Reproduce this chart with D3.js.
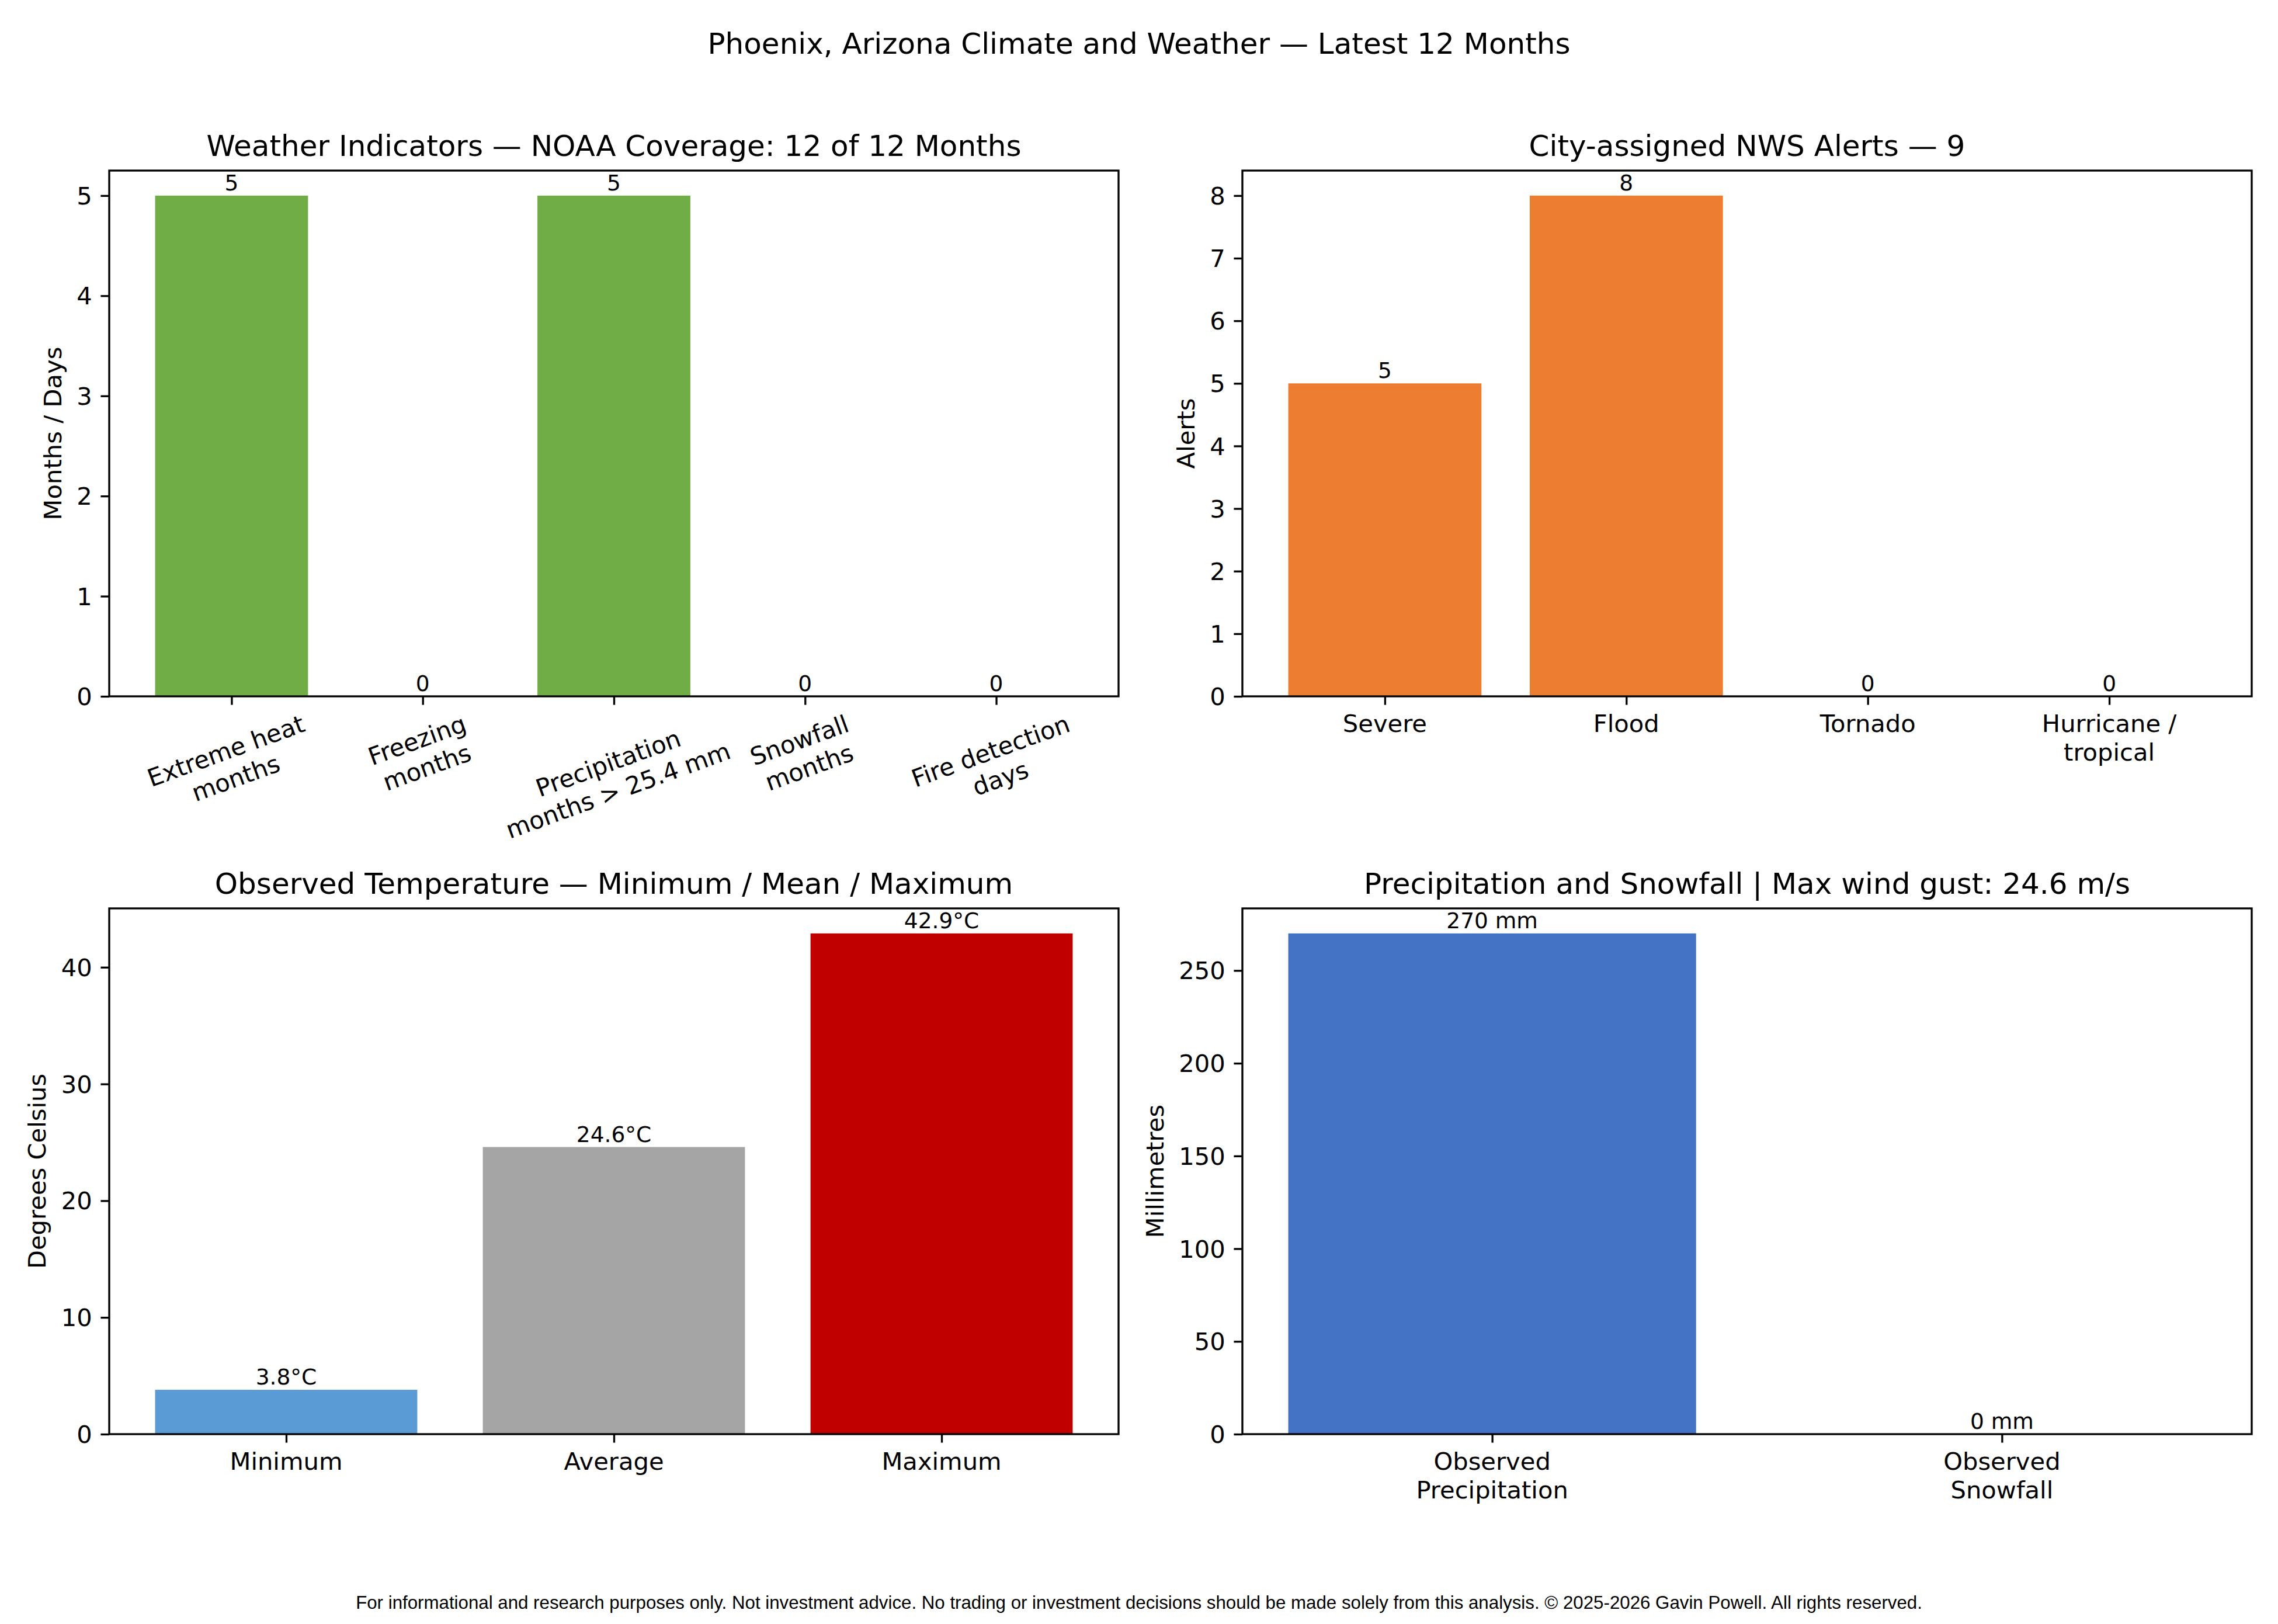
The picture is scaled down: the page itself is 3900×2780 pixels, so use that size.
<!DOCTYPE html>
<html>
<head>
<meta charset="utf-8">
<script src="https://cdn.jsdelivr.net/npm/d3@7"></script>
<style>
  html, body { margin: 0; padding: 0; background: #fff; }
  svg { display: block; }
</style>
</head>
<body>
<script>
// ---------------- DATA ----------------
const suptitle = "Phoenix, Arizona Climate and Weather \u2014 Latest 12 Months";
const footer = "For informational and research purposes only. Not investment advice. No trading or investment decisions should be made solely from this analysis. \u00a9 2025-2026 Gavin Powell. All rights reserved.";

const indicatorCategories = ["Extreme heat\nmonths", "Freezing\nmonths", "Precipitation\nmonths > 25.4 mm", "Snowfall\nmonths", "Fire detection\ndays"];
const indicatorValues = [5, 0, 5, 0, 0];
const indicatorTicks = [0, 1, 2, 3, 4, 5];

const alertCategories = ["Severe", "Flood", "Tornado", "Hurricane /\ntropical"];
const alertValues = [5, 8, 0, 0];
const alertTicks = [0, 1, 2, 3, 4, 5, 6, 7, 8];

const tempCategories = ["Minimum", "Average", "Maximum"];
const tempValues = [3.8, 24.6, 42.9];
const tempLabels = ["3.8\u00b0C", "24.6\u00b0C", "42.9\u00b0C"];
const tempTicks = [0, 10, 20, 30, 40];

const precipCategories = ["Observed\nPrecipitation", "Observed\nSnowfall"];
const precipValues = [270, 0];
const precipLabels = ["270 mm", "0 mm"];
const precipTicks = [0, 50, 100, 150, 200, 250];

const panels = [
  { title: "Weather Indicators \u2014 NOAA Coverage: 12 of 12 Months", ylabel: "Months / Days",
    cats: indicatorCategories, vals: indicatorValues, labels: indicatorValues.map(String),
    ticks: indicatorTicks, colors: ["#70AD47"], rot: 20, left: 187, top: 292 },
  { title: "City-assigned NWS Alerts \u2014 9", ylabel: "Alerts",
    cats: alertCategories, vals: alertValues, labels: alertValues.map(String),
    ticks: alertTicks, colors: ["#ED7D31"], rot: 0, left: 2127, top: 292 },
  { title: "Observed Temperature \u2014 Minimum / Mean / Maximum", ylabel: "Degrees Celsius",
    cats: tempCategories, vals: tempValues, labels: tempLabels,
    ticks: tempTicks, colors: ["#5B9BD5", "#A5A5A5", "#C00000"], rot: 0, left: 187, top: 1555 },
  { title: "Precipitation and Snowfall | Max wind gust: 24.6 m/s", ylabel: "Millimetres",
    cats: precipCategories, vals: precipValues, labels: precipLabels,
    ticks: precipTicks, colors: ["#4472C4"], rot: 0, left: 2127, top: 1555 }
];

// ---------------- STYLE ----------------
const W = 3900, H = 2780;
const AW = 1728, AH = 900;
const FONT = "'DejaVu Sans', sans-serif";
const FS_TICK = 41.67, FS_TITLE = 50, FS_BAR = 37.5, FS_FOOT = 31.25;
const TICK_LEN = 14.58, TICK_PAD = 14.58, LW = 3.33, LABELPAD = 16.67;

const svg = d3.select("body").append("svg")
  .attr("width", W).attr("height", H)
  .attr("viewBox", `0 0 ${W} ${H}`)
  .style("font-family", FONT);

svg.append("rect").attr("width", W).attr("height", H).attr("fill", "#fff");

svg.append("text")
  .attr("x", W / 2).attr("y", 92)
  .attr("text-anchor", "middle")
  .attr("font-size", FS_TITLE)
  .text(suptitle);

svg.append("text")
  .attr("x", W / 2).attr("y", 2754)
  .attr("text-anchor", "middle")
  .attr("font-size", FS_FOOT)
  .style("font-family", "'Liberation Sans', Arial, sans-serif")
  .text(footer);

// measuring helper
const measurer = svg.append("text").attr("font-size", FS_TICK).attr("visibility", "hidden");
function textWidth(s, fs) {
  measurer.attr("font-size", fs).text(s);
  return measurer.node().getComputedTextLength();
}

panels.forEach(p => {
  const n = p.cats.length;
  const span = n - 0.2;
  const m = 0.05 * span;
  const x = d3.scaleLinear().domain([-0.4 - m, n - 1 + 0.4 + m]).range([0, AW]);
  const ymax = d3.max(p.vals) * 1.05;
  const y = d3.scaleLinear().domain([0, ymax]).range([AH, 0]);
  const unit = x(1) - x(0);

  const g = svg.append("g").attr("transform", `translate(${p.left},${p.top})`);

  // bars
  g.selectAll("rect.bar").data(p.vals).enter().append("rect")
    .attr("class", "bar")
    .attr("x", (d, i) => x(i - 0.4))
    .attr("width", unit * 0.8)
    .attr("y", d => y(d))
    .attr("height", d => y(0) - y(d))
    .attr("fill", (d, i) => p.colors[i % p.colors.length]);

  // bar labels
  g.selectAll("text.blabel").data(p.vals).enter().append("text")
    .attr("class", "blabel")
    .attr("x", (d, i) => x(i))
    .attr("y", d => y(d) - 0.236 * FS_BAR)
    .attr("text-anchor", "middle")
    .attr("font-size", FS_BAR)
    .text((d, i) => p.labels[i]);

  // y axis
  const yAxis = d3.axisLeft(y).tickValues(p.ticks).tickFormat(d3.format("d"))
    .tickSize(TICK_LEN).tickPadding(TICK_PAD);
  const ya = g.append("g").call(yAxis);
  ya.select(".domain").remove();
  ya.selectAll(".tick line").attr("stroke", "#000").attr("stroke-width", LW);
  ya.selectAll(".tick text").attr("font-size", FS_TICK).attr("font-family", FONT).attr("fill", "#000").attr("dy", "0.35em");

  // x axis ticks
  const xAxis = d3.axisBottom(x).tickValues(d3.range(n)).tickFormat("")
    .tickSize(TICK_LEN).tickPadding(TICK_PAD);
  const xa = g.append("g").attr("transform", `translate(0,${AH})`).call(xAxis);
  xa.select(".domain").remove();
  xa.selectAll(".tick line").attr("stroke", "#000").attr("stroke-width", LW);

  // x tick labels (multi-line, possibly rotated)
  const lineStep = 0.99 * FS_TICK * 1.2;
  const th = p.rot * Math.PI / 180;
  p.cats.forEach((c, i) => {
    const lines = c.split("\n");
    const w = d3.max(lines, l => textWidth(l, FS_TICK));
    const h = (lines.length - 1) * lineStep + 0.99 * FS_TICK;
    const Hb = w * Math.sin(th) + h * Math.cos(th);
    const cy = AH + TICK_LEN + TICK_PAD + Hb / 2;
    const lg = g.append("g").attr("transform", `translate(${x(i)},${cy}) rotate(${-p.rot})`);
    lines.forEach((l, k) => {
      lg.append("text")
        .attr("x", 0)
        .attr("y", -h / 2 + 0.76 * FS_TICK + k * lineStep)
        .attr("text-anchor", "middle")
        .attr("font-size", FS_TICK)
        .text(l);
    });
  });

  // y label
  let maxTW = 0;
  p.ticks.forEach(t => { maxTW = Math.max(maxTW, textWidth(String(t), FS_TICK)); });
  const ylx = -(TICK_LEN + TICK_PAD + maxTW + LABELPAD + 0.236 * FS_TICK);
  g.append("text")
    .attr("transform", `translate(${ylx},${AH / 2}) rotate(-90)`)
    .attr("text-anchor", "middle")
    .attr("font-size", FS_TICK)
    .text(p.ylabel);

  // spines
  g.append("rect")
    .attr("x", 0).attr("y", 0).attr("width", AW).attr("height", AH)
    .attr("fill", "none").attr("stroke", "#000").attr("stroke-width", LW)
    .attr("stroke-linejoin", "miter");

  // title
  g.append("text")
    .attr("x", AW / 2).attr("y", -25)
    .attr("text-anchor", "middle")
    .attr("font-size", FS_TITLE)
    .text(p.title);
});

measurer.remove();
</script>
</body>
</html>
